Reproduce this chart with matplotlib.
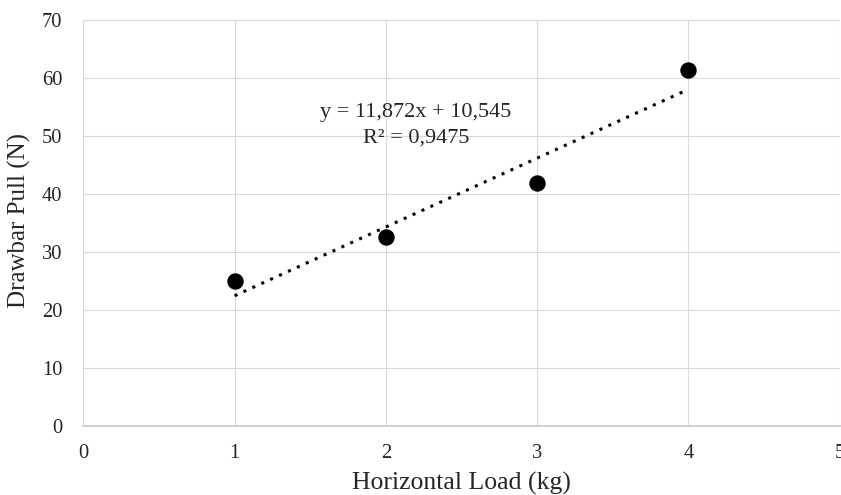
import numpy as np
import matplotlib
matplotlib.use("Agg")
import matplotlib.pyplot as plt

# measured drawbar pull vs horizontal load
load_kg = [1, 2, 3, 4]
pull_n = [25.0, 32.6, 41.9, 61.4]

# linear trendline as reported in the chart
slope = 11.872
intercept = 10.545
r_squared = 0.9475

x_ticks = [0, 1, 2, 3, 4, 5]
y_ticks = [0, 10, 20, 30, 40, 50, 60, 70]

plt.rcParams['font.family'] = ['Liberation Serif', 'DejaVu Serif']

fig = plt.figure(figsize=(8.41, 4.95), dpi=100)
ax = fig.add_axes([0.0991, 0.14, 0.8993, 0.8196])

grid_color = '#d9d9d9'
ax.set_xlim(0, 5)
ax.set_ylim(0, 70)
ax.set_xticks(x_ticks)
ax.set_yticks(y_ticks)
ax.grid(True, color=grid_color, linewidth=0.8)
ax.set_axisbelow(True)

for side in ['top', 'right']:
    ax.spines[side].set_visible(False)
ax.spines['left'].set_color(grid_color)
ax.spines['left'].set_linewidth(0.8)
ax.spines['bottom'].set_color('#cccccc')
ax.spines['bottom'].set_linewidth(1.3)

ax.tick_params(length=0, labelsize=14.8, colors='#262626')
ax.tick_params(axis='y', pad=15)
ax.tick_params(axis='x', pad=13)

# trendline
xs = np.array([min(load_kg), max(load_kg)])
ax.plot(xs, slope * xs + intercept, color='black', linewidth=2.2,
        linestyle=(0, (1, 2.2)), zorder=2)

ax.plot(load_kg, pull_n, 'o', color='black', markersize=10.8, zorder=3,
        clip_on=False)

fmt = lambda v, d: f"{v:.{d}f}".replace('.', ',')
ax.text(2.2, 54.1, f"y = {fmt(slope, 3)}x + {fmt(intercept, 3)}",
        ha='center', va='center', fontsize=16, color='#262626')
ax.text(2.2, 49.7, f"R² = {fmt(r_squared, 4)}",
        ha='center', va='center', fontsize=16, color='#262626')

ax.set_xlabel('Horizontal Load (kg)', fontsize=18.5, color='#262626')
ax.xaxis.set_label_coords(0.5, -0.114)
ax.set_ylabel('Drawbar Pull (N)', fontsize=18, color='#262626')
ax.yaxis.set_label_coords(-0.069, 0.505)

fig.savefig('out.png', dpi=100)
